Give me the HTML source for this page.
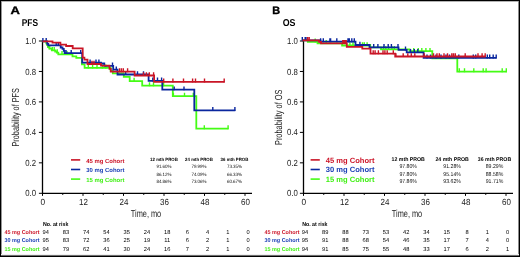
<!DOCTYPE html>
<html><head><meta charset="utf-8"><style>
html,body{margin:0;padding:0;background:#fff;width:520px;height:257px;overflow:hidden;}
svg{display:block;font-family:"Liberation Sans", sans-serif;will-change:transform;}
</style></head><body>
<svg width="520" height="257" viewBox="0 0 520 257" text-rendering="geometricPrecision" font-family='"Liberation Sans", sans-serif'>
<rect x="0" y="0" width="520" height="257" fill="#fff"/>
<text x="10.399999999999999" y="13.8" font-size="10.8" text-anchor="start" font-weight="bold" fill="#000" textLength="9.4" lengthAdjust="spacingAndGlyphs" stroke="#000" stroke-width="0.35">A</text>
<text x="21.7" y="25.7" font-size="9.9" text-anchor="start" font-weight="bold" fill="#000" textLength="16.3" lengthAdjust="spacingAndGlyphs" >PFS</text>
<text transform="translate(19.3,117.3) rotate(-90)" x="0" y="0" font-size="10.2" text-anchor="middle" fill="#222" textLength="58.5" lengthAdjust="spacingAndGlyphs">Probability of PFS</text>
<path d="M42.5,40.6V193.8 M42.0,193.3H252.0" stroke="#000" stroke-width="1.3" fill="none"/>
<path d="M38.9,193.3H42.5" stroke="#000" stroke-width="1"/>
<text x="36.0" y="196.4" font-size="8.9" text-anchor="end" font-weight="normal" fill="#222" textLength="10.8" lengthAdjust="spacingAndGlyphs" >0.0</text>
<path d="M38.9,162.84H42.5" stroke="#000" stroke-width="1"/>
<text x="36.0" y="165.94" font-size="8.9" text-anchor="end" font-weight="normal" fill="#222" textLength="10.8" lengthAdjust="spacingAndGlyphs" >0.2</text>
<path d="M38.9,132.38H42.5" stroke="#000" stroke-width="1"/>
<text x="36.0" y="135.48" font-size="8.9" text-anchor="end" font-weight="normal" fill="#222" textLength="10.8" lengthAdjust="spacingAndGlyphs" >0.4</text>
<path d="M38.9,101.91999999999999H42.5" stroke="#000" stroke-width="1"/>
<text x="36.0" y="105.01999999999998" font-size="8.9" text-anchor="end" font-weight="normal" fill="#222" textLength="10.8" lengthAdjust="spacingAndGlyphs" >0.6</text>
<path d="M38.9,71.46H42.5" stroke="#000" stroke-width="1"/>
<text x="36.0" y="74.55999999999999" font-size="8.9" text-anchor="end" font-weight="normal" fill="#222" textLength="10.8" lengthAdjust="spacingAndGlyphs" >0.8</text>
<path d="M38.9,41.0H42.5" stroke="#000" stroke-width="1"/>
<text x="36.0" y="44.1" font-size="8.9" text-anchor="end" font-weight="normal" fill="#222" textLength="10.8" lengthAdjust="spacingAndGlyphs" >1.0</text>
<path d="M42.5,193.3V195.9" stroke="#000" stroke-width="1"/>
<text x="42.9" y="204.8" font-size="8.9" text-anchor="middle" font-weight="normal" fill="#222" textLength="4.6" lengthAdjust="spacingAndGlyphs" >0</text>
<path d="M62.75,193.3V194.9" stroke="#000" stroke-width="1"/>
<path d="M83.0,193.3V195.9" stroke="#000" stroke-width="1"/>
<text x="83.4" y="204.8" font-size="8.9" text-anchor="middle" font-weight="normal" fill="#222" textLength="8.9" lengthAdjust="spacingAndGlyphs" >12</text>
<path d="M103.25,193.3V194.9" stroke="#000" stroke-width="1"/>
<path d="M123.5,193.3V195.9" stroke="#000" stroke-width="1"/>
<text x="123.9" y="204.8" font-size="8.9" text-anchor="middle" font-weight="normal" fill="#222" textLength="8.9" lengthAdjust="spacingAndGlyphs" >24</text>
<path d="M143.75,193.3V194.9" stroke="#000" stroke-width="1"/>
<path d="M164.0,193.3V195.9" stroke="#000" stroke-width="1"/>
<text x="164.4" y="204.8" font-size="8.9" text-anchor="middle" font-weight="normal" fill="#222" textLength="8.9" lengthAdjust="spacingAndGlyphs" >36</text>
<path d="M184.25,193.3V194.9" stroke="#000" stroke-width="1"/>
<path d="M204.5,193.3V195.9" stroke="#000" stroke-width="1"/>
<text x="204.9" y="204.8" font-size="8.9" text-anchor="middle" font-weight="normal" fill="#222" textLength="8.9" lengthAdjust="spacingAndGlyphs" >48</text>
<path d="M224.75,193.3V194.9" stroke="#000" stroke-width="1"/>
<path d="M245.0,193.3V195.9" stroke="#000" stroke-width="1"/>
<text x="245.4" y="204.8" font-size="8.9" text-anchor="middle" font-weight="normal" fill="#222" textLength="8.9" lengthAdjust="spacingAndGlyphs" >60</text>
<text x="146.0" y="216.7" font-size="10.3" text-anchor="middle" font-weight="normal" fill="#222" textLength="30.4" lengthAdjust="spacingAndGlyphs" >Time, mo</text>
<path d="M71,159.9H80.2" stroke="#c91526" stroke-width="1.6"/>
<text x="86.3" y="162.70000000000002" font-size="5.9" text-anchor="start" font-weight="bold" fill="#cc1428" textLength="38.2" lengthAdjust="spacingAndGlyphs" >45 mg Cohort</text>
<path d="M71,169.5H80.2" stroke="#0a269e" stroke-width="1.6"/>
<text x="86.3" y="172.3" font-size="5.9" text-anchor="start" font-weight="bold" fill="#1c40b6" textLength="38.2" lengthAdjust="spacingAndGlyphs" >30 mg Cohort</text>
<path d="M71,179.1H80.2" stroke="#44fc14" stroke-width="1.6"/>
<text x="86.3" y="181.9" font-size="5.9" text-anchor="start" font-weight="bold" fill="#40f014" textLength="38.2" lengthAdjust="spacingAndGlyphs" >15 mg Cohort</text>
<text x="164" y="160.8" font-size="4.5760000000000005" text-anchor="middle" font-weight="bold" fill="#000" textLength="27.8" lengthAdjust="spacingAndGlyphs" >12 mth PROB</text>
<text x="164" y="168.1" font-size="4.752000000000001" text-anchor="middle" font-weight="normal" fill="#111" textLength="15.2" lengthAdjust="spacingAndGlyphs" >91.60%</text>
<text x="164" y="175.54999999999998" font-size="4.752000000000001" text-anchor="middle" font-weight="normal" fill="#111" textLength="15.2" lengthAdjust="spacingAndGlyphs" >86.12%</text>
<text x="164" y="183.0" font-size="4.752000000000001" text-anchor="middle" font-weight="normal" fill="#111" textLength="15.2" lengthAdjust="spacingAndGlyphs" >84.86%</text>
<text x="199" y="160.8" font-size="4.5760000000000005" text-anchor="middle" font-weight="bold" fill="#000" textLength="27.8" lengthAdjust="spacingAndGlyphs" >24 mth PROB</text>
<text x="199" y="168.1" font-size="4.752000000000001" text-anchor="middle" font-weight="normal" fill="#111" textLength="15.2" lengthAdjust="spacingAndGlyphs" >79.99%</text>
<text x="199" y="175.54999999999998" font-size="4.752000000000001" text-anchor="middle" font-weight="normal" fill="#111" textLength="15.2" lengthAdjust="spacingAndGlyphs" >74.09%</text>
<text x="199" y="183.0" font-size="4.752000000000001" text-anchor="middle" font-weight="normal" fill="#111" textLength="15.2" lengthAdjust="spacingAndGlyphs" >73.06%</text>
<text x="234.5" y="160.8" font-size="4.5760000000000005" text-anchor="middle" font-weight="bold" fill="#000" textLength="27.8" lengthAdjust="spacingAndGlyphs" >36 mth PROB</text>
<text x="234.5" y="168.1" font-size="4.752000000000001" text-anchor="middle" font-weight="normal" fill="#111" textLength="15.2" lengthAdjust="spacingAndGlyphs" >73.35%</text>
<text x="234.5" y="175.54999999999998" font-size="4.752000000000001" text-anchor="middle" font-weight="normal" fill="#111" textLength="15.2" lengthAdjust="spacingAndGlyphs" >66.33%</text>
<text x="234.5" y="183.0" font-size="4.752000000000001" text-anchor="middle" font-weight="normal" fill="#111" textLength="15.2" lengthAdjust="spacingAndGlyphs" >60.67%</text>
<text x="43.0" y="226.4" font-size="5.8" text-anchor="start" font-weight="bold" fill="#000" textLength="25.4" lengthAdjust="spacingAndGlyphs" >No. at risk</text>
<text x="4.5" y="234.3" font-size="5.6" text-anchor="start" font-weight="bold" fill="#cc1428" textLength="35" lengthAdjust="spacingAndGlyphs" >45 mg Cohort</text>
<text x="45.7" y="234.3" font-size="5.7" text-anchor="middle" font-weight="normal" fill="#000" >94</text>
<text x="65.95" y="234.3" font-size="5.7" text-anchor="middle" font-weight="normal" fill="#000" >83</text>
<text x="86.2" y="234.3" font-size="5.7" text-anchor="middle" font-weight="normal" fill="#000" >74</text>
<text x="106.45" y="234.3" font-size="5.7" text-anchor="middle" font-weight="normal" fill="#000" >54</text>
<text x="126.7" y="234.3" font-size="5.7" text-anchor="middle" font-weight="normal" fill="#000" >35</text>
<text x="146.95" y="234.3" font-size="5.7" text-anchor="middle" font-weight="normal" fill="#000" >24</text>
<text x="167.2" y="234.3" font-size="5.7" text-anchor="middle" font-weight="normal" fill="#000" >18</text>
<text x="187.45" y="234.3" font-size="5.7" text-anchor="middle" font-weight="normal" fill="#000" >6</text>
<text x="207.7" y="234.3" font-size="5.7" text-anchor="middle" font-weight="normal" fill="#000" >4</text>
<text x="227.95" y="234.3" font-size="5.7" text-anchor="middle" font-weight="normal" fill="#000" >1</text>
<text x="248.2" y="234.3" font-size="5.7" text-anchor="middle" font-weight="normal" fill="#000" >0</text>
<text x="4.5" y="242.45000000000002" font-size="5.6" text-anchor="start" font-weight="bold" fill="#1c40b6" textLength="35" lengthAdjust="spacingAndGlyphs" >30 mg Cohort</text>
<text x="45.7" y="242.45000000000002" font-size="5.7" text-anchor="middle" font-weight="normal" fill="#000" >95</text>
<text x="65.95" y="242.45000000000002" font-size="5.7" text-anchor="middle" font-weight="normal" fill="#000" >83</text>
<text x="86.2" y="242.45000000000002" font-size="5.7" text-anchor="middle" font-weight="normal" fill="#000" >72</text>
<text x="106.45" y="242.45000000000002" font-size="5.7" text-anchor="middle" font-weight="normal" fill="#000" >36</text>
<text x="126.7" y="242.45000000000002" font-size="5.7" text-anchor="middle" font-weight="normal" fill="#000" >25</text>
<text x="146.95" y="242.45000000000002" font-size="5.7" text-anchor="middle" font-weight="normal" fill="#000" >19</text>
<text x="167.2" y="242.45000000000002" font-size="5.7" text-anchor="middle" font-weight="normal" fill="#000" >11</text>
<text x="187.45" y="242.45000000000002" font-size="5.7" text-anchor="middle" font-weight="normal" fill="#000" >6</text>
<text x="207.7" y="242.45000000000002" font-size="5.7" text-anchor="middle" font-weight="normal" fill="#000" >2</text>
<text x="227.95" y="242.45000000000002" font-size="5.7" text-anchor="middle" font-weight="normal" fill="#000" >1</text>
<text x="248.2" y="242.45000000000002" font-size="5.7" text-anchor="middle" font-weight="normal" fill="#000" >0</text>
<text x="4.5" y="250.60000000000002" font-size="5.6" text-anchor="start" font-weight="bold" fill="#40f014" textLength="35" lengthAdjust="spacingAndGlyphs" >15 mg Cohort</text>
<text x="45.7" y="250.60000000000002" font-size="5.7" text-anchor="middle" font-weight="normal" fill="#000" >94</text>
<text x="65.95" y="250.60000000000002" font-size="5.7" text-anchor="middle" font-weight="normal" fill="#000" >79</text>
<text x="86.2" y="250.60000000000002" font-size="5.7" text-anchor="middle" font-weight="normal" fill="#000" >62</text>
<text x="106.45" y="250.60000000000002" font-size="5.7" text-anchor="middle" font-weight="normal" fill="#000" >41</text>
<text x="126.7" y="250.60000000000002" font-size="5.7" text-anchor="middle" font-weight="normal" fill="#000" >30</text>
<text x="146.95" y="250.60000000000002" font-size="5.7" text-anchor="middle" font-weight="normal" fill="#000" >24</text>
<text x="167.2" y="250.60000000000002" font-size="5.7" text-anchor="middle" font-weight="normal" fill="#000" >16</text>
<text x="187.45" y="250.60000000000002" font-size="5.7" text-anchor="middle" font-weight="normal" fill="#000" >7</text>
<text x="207.7" y="250.60000000000002" font-size="5.7" text-anchor="middle" font-weight="normal" fill="#000" >2</text>
<text x="227.95" y="250.60000000000002" font-size="5.7" text-anchor="middle" font-weight="normal" fill="#000" >1</text>
<text x="248.2" y="250.60000000000002" font-size="5.7" text-anchor="middle" font-weight="normal" fill="#000" >0</text>
<text x="272.29999999999995" y="13.8" font-size="10.8" text-anchor="start" font-weight="bold" fill="#000" textLength="7.9" lengthAdjust="spacingAndGlyphs" stroke="#000" stroke-width="0.35">B</text>
<text x="282.7" y="25.7" font-size="9.9" text-anchor="start" font-weight="bold" fill="#000" textLength="12.8" lengthAdjust="spacingAndGlyphs" >OS</text>
<text transform="translate(282.3,117.3) rotate(-90)" x="0" y="0" font-size="10.2" text-anchor="middle" fill="#222" textLength="55.5" lengthAdjust="spacingAndGlyphs">Probability of OS</text>
<path d="M303.5,40.6V193.8 M303.0,193.3H513.0" stroke="#000" stroke-width="1.3" fill="none"/>
<path d="M299.9,193.3H303.5" stroke="#000" stroke-width="1"/>
<text x="297.9" y="196.4" font-size="8.9" text-anchor="end" font-weight="normal" fill="#222" textLength="10.8" lengthAdjust="spacingAndGlyphs" >0.0</text>
<path d="M299.9,162.84H303.5" stroke="#000" stroke-width="1"/>
<text x="297.9" y="165.94" font-size="8.9" text-anchor="end" font-weight="normal" fill="#222" textLength="10.8" lengthAdjust="spacingAndGlyphs" >0.2</text>
<path d="M299.9,132.38H303.5" stroke="#000" stroke-width="1"/>
<text x="297.9" y="135.48" font-size="8.9" text-anchor="end" font-weight="normal" fill="#222" textLength="10.8" lengthAdjust="spacingAndGlyphs" >0.4</text>
<path d="M299.9,101.91999999999999H303.5" stroke="#000" stroke-width="1"/>
<text x="297.9" y="105.01999999999998" font-size="8.9" text-anchor="end" font-weight="normal" fill="#222" textLength="10.8" lengthAdjust="spacingAndGlyphs" >0.6</text>
<path d="M299.9,71.46H303.5" stroke="#000" stroke-width="1"/>
<text x="297.9" y="74.55999999999999" font-size="8.9" text-anchor="end" font-weight="normal" fill="#222" textLength="10.8" lengthAdjust="spacingAndGlyphs" >0.8</text>
<path d="M299.9,41.0H303.5" stroke="#000" stroke-width="1"/>
<text x="297.9" y="44.1" font-size="8.9" text-anchor="end" font-weight="normal" fill="#222" textLength="10.8" lengthAdjust="spacingAndGlyphs" >1.0</text>
<path d="M303.5,193.3V195.9" stroke="#000" stroke-width="1"/>
<text x="303.9" y="204.8" font-size="8.9" text-anchor="middle" font-weight="normal" fill="#222" textLength="4.6" lengthAdjust="spacingAndGlyphs" >0</text>
<path d="M323.75,193.3V194.9" stroke="#000" stroke-width="1"/>
<path d="M344.0,193.3V195.9" stroke="#000" stroke-width="1"/>
<text x="344.4" y="204.8" font-size="8.9" text-anchor="middle" font-weight="normal" fill="#222" textLength="8.9" lengthAdjust="spacingAndGlyphs" >12</text>
<path d="M364.25,193.3V194.9" stroke="#000" stroke-width="1"/>
<path d="M384.5,193.3V195.9" stroke="#000" stroke-width="1"/>
<text x="384.9" y="204.8" font-size="8.9" text-anchor="middle" font-weight="normal" fill="#222" textLength="8.9" lengthAdjust="spacingAndGlyphs" >24</text>
<path d="M404.75,193.3V194.9" stroke="#000" stroke-width="1"/>
<path d="M425.0,193.3V195.9" stroke="#000" stroke-width="1"/>
<text x="425.4" y="204.8" font-size="8.9" text-anchor="middle" font-weight="normal" fill="#222" textLength="8.9" lengthAdjust="spacingAndGlyphs" >36</text>
<path d="M445.25,193.3V194.9" stroke="#000" stroke-width="1"/>
<path d="M465.5,193.3V195.9" stroke="#000" stroke-width="1"/>
<text x="465.9" y="204.8" font-size="8.9" text-anchor="middle" font-weight="normal" fill="#222" textLength="8.9" lengthAdjust="spacingAndGlyphs" >48</text>
<path d="M485.75,193.3V194.9" stroke="#000" stroke-width="1"/>
<path d="M506.0,193.3V195.9" stroke="#000" stroke-width="1"/>
<text x="506.4" y="204.8" font-size="8.9" text-anchor="middle" font-weight="normal" fill="#222" textLength="8.9" lengthAdjust="spacingAndGlyphs" >60</text>
<text x="407.0" y="216.7" font-size="10.3" text-anchor="middle" font-weight="normal" fill="#222" textLength="30.4" lengthAdjust="spacingAndGlyphs" >Time, mo</text>
<path d="M310.6,159.9H319.8" stroke="#c91526" stroke-width="1.6"/>
<text x="325.8" y="162.70000000000002" font-size="7.6" text-anchor="start" font-weight="bold" fill="#cc1428" textLength="48.7" lengthAdjust="spacingAndGlyphs" >45 mg Cohort</text>
<path d="M310.6,169.5H319.8" stroke="#0a269e" stroke-width="1.6"/>
<text x="325.8" y="172.3" font-size="7.6" text-anchor="start" font-weight="bold" fill="#1c40b6" textLength="48.7" lengthAdjust="spacingAndGlyphs" >30 mg Cohort</text>
<path d="M310.6,179.1H319.8" stroke="#44fc14" stroke-width="1.6"/>
<text x="325.8" y="181.9" font-size="7.6" text-anchor="start" font-weight="bold" fill="#40f014" textLength="48.7" lengthAdjust="spacingAndGlyphs" >15 mg Cohort</text>
<text x="408.2" y="160.8" font-size="5.408" text-anchor="middle" font-weight="bold" fill="#000" textLength="33.3" lengthAdjust="spacingAndGlyphs" >12 mth PROB</text>
<text x="408.2" y="168.1" font-size="5.6160000000000005" text-anchor="middle" font-weight="normal" fill="#111" textLength="17.6" lengthAdjust="spacingAndGlyphs" >97.80%</text>
<text x="408.2" y="175.54999999999998" font-size="5.6160000000000005" text-anchor="middle" font-weight="normal" fill="#111" textLength="17.6" lengthAdjust="spacingAndGlyphs" >97.80%</text>
<text x="408.2" y="183.0" font-size="5.6160000000000005" text-anchor="middle" font-weight="normal" fill="#111" textLength="17.6" lengthAdjust="spacingAndGlyphs" >97.86%</text>
<text x="452.1" y="160.8" font-size="5.408" text-anchor="middle" font-weight="bold" fill="#000" textLength="33.3" lengthAdjust="spacingAndGlyphs" >24 mth PROB</text>
<text x="452.1" y="168.1" font-size="5.6160000000000005" text-anchor="middle" font-weight="normal" fill="#111" textLength="17.6" lengthAdjust="spacingAndGlyphs" >91.28%</text>
<text x="452.1" y="175.54999999999998" font-size="5.6160000000000005" text-anchor="middle" font-weight="normal" fill="#111" textLength="17.6" lengthAdjust="spacingAndGlyphs" >95.14%</text>
<text x="452.1" y="183.0" font-size="5.6160000000000005" text-anchor="middle" font-weight="normal" fill="#111" textLength="17.6" lengthAdjust="spacingAndGlyphs" >93.62%</text>
<text x="494.5" y="160.8" font-size="5.408" text-anchor="middle" font-weight="bold" fill="#000" textLength="33.3" lengthAdjust="spacingAndGlyphs" >36 mth PROB</text>
<text x="494.5" y="168.1" font-size="5.6160000000000005" text-anchor="middle" font-weight="normal" fill="#111" textLength="17.6" lengthAdjust="spacingAndGlyphs" >89.29%</text>
<text x="494.5" y="175.54999999999998" font-size="5.6160000000000005" text-anchor="middle" font-weight="normal" fill="#111" textLength="17.6" lengthAdjust="spacingAndGlyphs" >88.58%</text>
<text x="494.5" y="183.0" font-size="5.6160000000000005" text-anchor="middle" font-weight="normal" fill="#111" textLength="17.6" lengthAdjust="spacingAndGlyphs" >91.71%</text>
<text x="302.13" y="226.4" font-size="5.8" text-anchor="start" font-weight="bold" fill="#000" textLength="25.4" lengthAdjust="spacingAndGlyphs" >No. at risk</text>
<text x="264.48" y="234.3" font-size="5.6" text-anchor="start" font-weight="bold" fill="#cc1428" textLength="35" lengthAdjust="spacingAndGlyphs" >45 mg Cohort</text>
<text x="305.0" y="234.3" font-size="5.7" text-anchor="middle" font-weight="normal" fill="#000" >94</text>
<text x="325.25" y="234.3" font-size="5.7" text-anchor="middle" font-weight="normal" fill="#000" >89</text>
<text x="345.5" y="234.3" font-size="5.7" text-anchor="middle" font-weight="normal" fill="#000" >88</text>
<text x="365.75" y="234.3" font-size="5.7" text-anchor="middle" font-weight="normal" fill="#000" >73</text>
<text x="386.0" y="234.3" font-size="5.7" text-anchor="middle" font-weight="normal" fill="#000" >53</text>
<text x="406.25" y="234.3" font-size="5.7" text-anchor="middle" font-weight="normal" fill="#000" >42</text>
<text x="426.5" y="234.3" font-size="5.7" text-anchor="middle" font-weight="normal" fill="#000" >34</text>
<text x="446.75" y="234.3" font-size="5.7" text-anchor="middle" font-weight="normal" fill="#000" >15</text>
<text x="467.0" y="234.3" font-size="5.7" text-anchor="middle" font-weight="normal" fill="#000" >8</text>
<text x="487.25" y="234.3" font-size="5.7" text-anchor="middle" font-weight="normal" fill="#000" >1</text>
<text x="507.5" y="234.3" font-size="5.7" text-anchor="middle" font-weight="normal" fill="#000" >0</text>
<text x="264.48" y="242.45000000000002" font-size="5.6" text-anchor="start" font-weight="bold" fill="#1c40b6" textLength="35" lengthAdjust="spacingAndGlyphs" >30 mg Cohort</text>
<text x="305.0" y="242.45000000000002" font-size="5.7" text-anchor="middle" font-weight="normal" fill="#000" >95</text>
<text x="325.25" y="242.45000000000002" font-size="5.7" text-anchor="middle" font-weight="normal" fill="#000" >91</text>
<text x="345.5" y="242.45000000000002" font-size="5.7" text-anchor="middle" font-weight="normal" fill="#000" >88</text>
<text x="365.75" y="242.45000000000002" font-size="5.7" text-anchor="middle" font-weight="normal" fill="#000" >68</text>
<text x="386.0" y="242.45000000000002" font-size="5.7" text-anchor="middle" font-weight="normal" fill="#000" >54</text>
<text x="406.25" y="242.45000000000002" font-size="5.7" text-anchor="middle" font-weight="normal" fill="#000" >46</text>
<text x="426.5" y="242.45000000000002" font-size="5.7" text-anchor="middle" font-weight="normal" fill="#000" >35</text>
<text x="446.75" y="242.45000000000002" font-size="5.7" text-anchor="middle" font-weight="normal" fill="#000" >17</text>
<text x="467.0" y="242.45000000000002" font-size="5.7" text-anchor="middle" font-weight="normal" fill="#000" >7</text>
<text x="487.25" y="242.45000000000002" font-size="5.7" text-anchor="middle" font-weight="normal" fill="#000" >4</text>
<text x="507.5" y="242.45000000000002" font-size="5.7" text-anchor="middle" font-weight="normal" fill="#000" >0</text>
<text x="264.48" y="250.60000000000002" font-size="5.6" text-anchor="start" font-weight="bold" fill="#40f014" textLength="35" lengthAdjust="spacingAndGlyphs" >15 mg Cohort</text>
<text x="305.0" y="250.60000000000002" font-size="5.7" text-anchor="middle" font-weight="normal" fill="#000" >94</text>
<text x="325.25" y="250.60000000000002" font-size="5.7" text-anchor="middle" font-weight="normal" fill="#000" >91</text>
<text x="345.5" y="250.60000000000002" font-size="5.7" text-anchor="middle" font-weight="normal" fill="#000" >85</text>
<text x="365.75" y="250.60000000000002" font-size="5.7" text-anchor="middle" font-weight="normal" fill="#000" >75</text>
<text x="386.0" y="250.60000000000002" font-size="5.7" text-anchor="middle" font-weight="normal" fill="#000" >55</text>
<text x="406.25" y="250.60000000000002" font-size="5.7" text-anchor="middle" font-weight="normal" fill="#000" >48</text>
<text x="426.5" y="250.60000000000002" font-size="5.7" text-anchor="middle" font-weight="normal" fill="#000" >33</text>
<text x="446.75" y="250.60000000000002" font-size="5.7" text-anchor="middle" font-weight="normal" fill="#000" >17</text>
<text x="467.0" y="250.60000000000002" font-size="5.7" text-anchor="middle" font-weight="normal" fill="#000" >6</text>
<text x="487.25" y="250.60000000000002" font-size="5.7" text-anchor="middle" font-weight="normal" fill="#000" >2</text>
<text x="507.5" y="250.60000000000002" font-size="5.7" text-anchor="middle" font-weight="normal" fill="#000" >1</text>
<path d="M42.5,41.3 H46.3 V43.3 H47.2 V45.2 H48.2 V47.1 H49.3 V48.6 H51.8 V50.4 H55.2 V51.5 H56.8 V52.6 H58.3 V54.3 H72.5 V56.3 H76.3 V57.8 H81.9 V64.4 H84.6 V67.9 H110.7 V70.8 H112.8 V73.4 H123.8 V76.8 H129.7 V81.1 H142.2 V85.6 H172.8 V96.1 H196.3 V128.6 H228.5" fill="none" stroke="#44fc14" stroke-width="1.8" stroke-linejoin="miter" stroke-linecap="butt"/>
<path d="M47.9,47.7V43.800000000000004M49.6,49.2V45.300000000000004M52.3,51.0V47.1M54.2,51.0V47.1M57.2,53.2V49.300000000000004M62,54.9V51.0M67,54.9V51.0M88.3,68.5V64.60000000000001M92.6,68.5V64.60000000000001M97,68.5V64.60000000000001M102.4,68.5V64.60000000000001M105.8,68.5V64.60000000000001M134.1,81.69999999999999V77.8M149.5,86.19999999999999V82.3M153.5,86.19999999999999V82.3M163.6,86.19999999999999V82.3M173.4,96.69999999999999V92.8M184.5,96.69999999999999V92.8M193.3,96.69999999999999V92.8M204.3,129.2V125.3M228.1,129.2V125.3" fill="none" stroke="#44fc14" stroke-width="1.4"/>
<path d="M42.5,41.3 H47.2 V43.8 H48.3 V45.4 H60.7 V47.5 H62.5 V48.8 H63.8 V50.9 H64.6 V53.2 H82.2 V62.7 H101 V63.5 H104.3 V65.8 H113.2 V69.7 H117.5 V74.5 H148.6 V80.9 H162.3 V89.7 H194.3 V110.3 H235.3" fill="none" stroke="#0a269e" stroke-width="1.8" stroke-linejoin="miter" stroke-linecap="butt"/>
<path d="M42.9,41.9V38.0M46.2,41.9V38.0M56.2,46.0V42.1M58.3,46.0V42.1M66,53.800000000000004V49.900000000000006M71.2,53.800000000000004V49.900000000000006M80.7,53.800000000000004V49.900000000000006M90.1,63.5V59.6M96,63.5V59.6M98.9,63.5V59.6M112.5,66.39999999999999V62.5M116.3,70.3V66.4M125.7,75.1V71.2M137.5,75.1V71.2M143.5,75.1V71.2M152.8,81.5V77.60000000000001M157.5,81.5V77.60000000000001M161.6,81.5V77.60000000000001M174.2,90.3V86.4M184,90.3V86.4M212.8,110.89999999999999V107.0M234.9,110.89999999999999V107.0" fill="none" stroke="#0a269e" stroke-width="1.4"/>
<path d="M42.5,41.3 H52.5 V42.6 H60.4 V44.6 H66.1 V46.0 H72.7 V48.3 H82.7 V57.7 H84.4 V59.6 H87.5 V64.0 H101 V65.6 H109.5 V68.9 H110.8 V71.6 H134.6 V75.5 H154.1 V81.8 H224.6" fill="none" stroke="#c91526" stroke-width="1.8" stroke-linejoin="miter" stroke-linecap="butt"/>
<path d="M92,64.6V60.7M94,64.6V60.7M119.5,72.19999999999999V68.3M121.4,72.19999999999999V68.3M123.3,72.19999999999999V68.3M127.6,72.19999999999999V68.3M143.5,76.1V72.2M146.4,76.1V72.2M149.3,76.1V72.2M153.6,76.1V72.2M163.7,82.39999999999999V78.5M172.9,82.39999999999999V78.5M183.5,82.39999999999999V78.5M192.6,82.39999999999999V78.5M195.5,82.39999999999999V78.5M204.5,82.39999999999999V78.5M224.2,82.39999999999999V78.5" fill="none" stroke="#c91526" stroke-width="1.4"/>
<path d="M302.5,40.3 H307.8 V41.8 H317.5 V43.3 H342.1 V45.5 H370 V47.3 H381 V49.4 H409.6 V51.2 H432.3 V58.3 H457.3 V71.6 H506.8" fill="none" stroke="#44fc14" stroke-width="1.8" stroke-linejoin="miter" stroke-linecap="butt"/>
<path d="M315.2,42.4V38.5M326.2,43.9V40.0M349.9,46.1V42.2M353,46.1V42.2M362.5,46.1V42.2M364.3,46.1V42.2M367.1,46.1V42.2M370.4,47.9V44.0M383.5,50.0V46.1M385.8,50.0V46.1M388.6,50.0V46.1M391.9,50.0V46.1M394.3,50.0V46.1M413.7,51.800000000000004V47.900000000000006M418.3,51.800000000000004V47.900000000000006M421.8,51.800000000000004V47.900000000000006M425.9,51.800000000000004V47.900000000000006M430,51.800000000000004V47.900000000000006M459.3,72.19999999999999V68.3M464.5,72.19999999999999V68.3M473.8,72.19999999999999V68.3M483.2,72.19999999999999V68.3M486.1,72.19999999999999V68.3M502.2,72.19999999999999V68.3M506.3,72.19999999999999V68.3" fill="none" stroke="#44fc14" stroke-width="1.4"/>
<path d="M302.5,40.3 H320.4 V41.6 H355.5 V45 H369.5 V47.3 H398.5 V49.8 H406.7 V52.3 H423.6 V57.8 H496.5" fill="none" stroke="#0a269e" stroke-width="1.8" stroke-linejoin="miter" stroke-linecap="butt"/>
<path d="M302.3,40.9V37.0M305.2,40.9V37.0M306,40.9V37.0M320.6,42.2V38.300000000000004M323.3,42.2V38.300000000000004M329.9,42.2V38.300000000000004M330.6,42.2V38.300000000000004M336.8,42.2V38.300000000000004M348,42.2V38.300000000000004M349.3,42.2V38.300000000000004M351.8,42.2V38.300000000000004M354.3,42.2V38.300000000000004M359.9,45.6V41.7M373.7,47.9V44.0M377.9,47.9V44.0M384,47.9V44.0M388.2,47.9V44.0M391.4,47.9V44.0M398,47.9V44.0M405.5,50.4V46.5M410.5,52.9V49.0M414.3,52.9V49.0M417.8,52.9V49.0M427,58.4V54.5M430.5,58.4V54.5M436,58.4V54.5M441,58.4V54.5M446,58.4V54.5M449.5,58.4V54.5M458.8,58.4V54.5M473.3,58.4V54.5M475.7,58.4V54.5M487.3,58.4V54.5M489.7,58.4V54.5M493.2,58.4V54.5M496.2,58.4V54.5" fill="none" stroke="#0a269e" stroke-width="1.4"/>
<path d="M302.5,40.3 H319 V41.8 H321 V43.3 H346.8 V46.8 H362.3 V48.6 H370.5 V53.6 H395.2 V56.5 H485.6" fill="none" stroke="#c91526" stroke-width="1.8" stroke-linejoin="miter" stroke-linecap="butt"/>
<path d="M307.6,40.9V37.0M309.2,40.9V37.0M342.8,43.9V40.0M344,43.9V40.0M345.3,43.9V40.0M346.2,43.9V40.0M373.2,54.2V50.300000000000004M375.1,54.2V50.300000000000004M378.4,54.2V50.300000000000004M383,54.2V50.300000000000004M384.9,54.2V50.300000000000004M387.2,54.2V50.300000000000004M393.3,54.2V50.300000000000004M395.9,57.1V53.2M403.2,57.1V53.2M407.8,57.1V53.2M411.3,57.1V53.2M414.8,57.1V53.2M424.2,57.1V53.2M433.5,57.1V53.2M437,57.1V53.2M439.3,57.1V53.2M444,57.1V53.2M447.5,57.1V53.2M451.8,57.1V53.2M453.5,57.1V53.2M455.3,57.1V53.2M465.2,57.1V53.2M478,57.1V53.2M482.1,57.1V53.2M485.2,57.1V53.2" fill="none" stroke="#c91526" stroke-width="1.4"/>
<rect x="0" y="0" width="520" height="1" fill="#000" shape-rendering="crispEdges"/>
<rect x="1" y="1" width="518" height="1" fill="#b4b4b4" shape-rendering="crispEdges"/>
<rect x="0" y="0" width="1" height="257" fill="#000" shape-rendering="crispEdges"/>
<rect x="1" y="1" width="1" height="255" fill="#969696" shape-rendering="crispEdges"/>
<rect x="519" y="0" width="1" height="257" fill="#000" shape-rendering="crispEdges"/>
<rect x="518" y="1" width="1" height="255" fill="#8c8c8c" shape-rendering="crispEdges"/>
<rect x="1" y="254" width="518" height="1" fill="#f0f0f0" shape-rendering="crispEdges"/>
<rect x="1" y="255" width="518" height="1" fill="#6e6e6e" shape-rendering="crispEdges"/>
<rect x="0" y="256" width="520" height="1" fill="#000" shape-rendering="crispEdges"/>
</svg>
</body></html>
